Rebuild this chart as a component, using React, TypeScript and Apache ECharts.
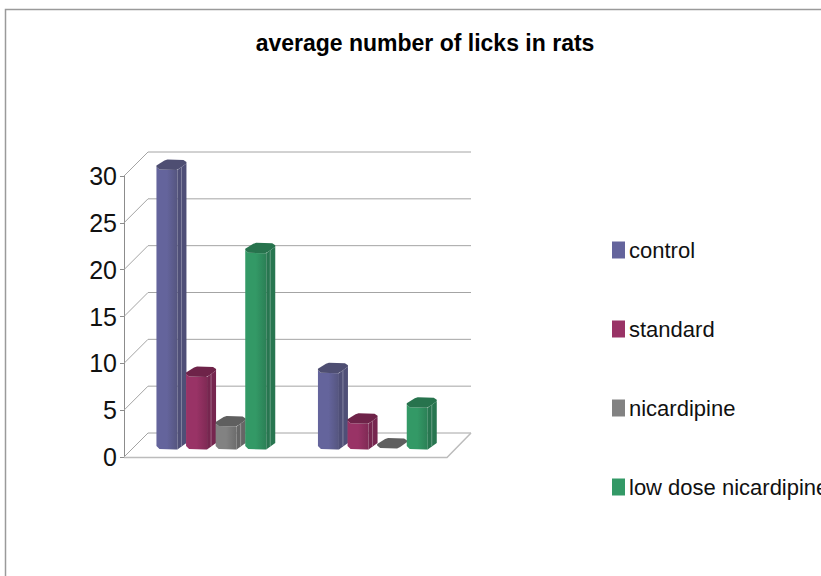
import React, { useEffect, useRef } from "react";
import * as echarts from "echarts";

const groups = ["group A", "group B"];
const controlValues = [29.9, 8.2];
const standardValues = [7.8, 2.8];
const nicardipineValues = [2.5, 0.15];
const lowDoseValues = [21, 4.5];
const yTicks = [0, 5, 10, 15, 20, 25, 30];

const FONT = '"Liberation Sans Narrow", "Liberation Sans", sans-serif';
const WALL_DEPTH = 24;
const BAR_DEPTH = 12;
const BAR_SLOT = 29.6;
const FRONT_W = 21;
const BAR_W = 30;

type Palette = { name: string; values: number[]; base: string; frontEnd: string; side: string; top: string };
const palettes: Palette[] = [
  { name: "control", values: controlValues, base: "#64649c", frontEnd: "#55557f", side: "#4f4f77", top: "#4e4e72" },
  { name: "standard", values: standardValues, base: "#993366", frontEnd: "#802a55", side: "#76264f", top: "#6e2349" },
  { name: "nicardipine", values: nicardipineValues, base: "#828282", frontEnd: "#6c6c6c", side: "#666666", top: "#5f5f5f" },
  { name: "low dose nicardipine", values: lowDoseValues, base: "#339966", frontEnd: "#2b8056", side: "#287650", top: "#27734d" },
];

const poly = (points: number[][], fill: any, z2 = 0) => ({
  type: "polygon",
  z2,
  shape: { points },
  style: { fill, stroke: null },
});

// A faceted cylinder: front facets, side facets, and a darker top cap.
const barRenderer = (slotIndex: number, p: Palette) => (_: any, api: any) => {
  const cat = api.value(0);
  const [cx, yTop] = api.coord([cat, api.value(1)]);
  const [, yZero] = api.coord([cat, 0]);
  const L = cx + BAR_DEPTH - 60 + BAR_SLOT * slotIndex - 0.3;
  const yt = yTop - BAR_DEPTH;
  const yb = yZero - BAR_DEPTH;
  const at = (x: number, y: number, o: number) => [L + x, y + o];
  const front = new echarts.graphic.LinearGradient(0, 0, 1, 0, [
    { offset: 0, color: p.base },
    { offset: 0.5, color: p.base },
    { offset: 1, color: p.frontEnd },
  ]);
  const tall = yb - yt > 6;
  const children: any[] = [];
  if (tall) {
    children.push(
      poly([at(0, yt, 2), at(3, yt, 4.5), at(FRONT_W, yt, 5), at(FRONT_W, yb, 4.5), at(19, yb, 4.5), at(3, yb, 4), at(0, yb, 1)], front, 1),
      poly([at(FRONT_W, yt, 5), at(23, yt, 3.5), at(BAR_W, yt, -1.5), at(BAR_W, yb, -2), at(23, yb, 3), at(FRONT_W, yb, 4.5)], p.side, 1),
      {
        type: "line",
        z2: 2,
        shape: { x1: L + 25, y1: yt + 2, x2: L + 25, y2: yb + 1 },
        style: { stroke: "rgba(255,255,255,0.3)", lineWidth: 1 },
      }
    );
  }
  children.push(
    poly(
      [at(0, yt, 2), at(3, yt, 4.5), at(20, yt, 5), at(23, yt, 3.5), at(BAR_W, yt, -1.5), at(BAR_W, yt, -3), at(27, yt, -5), at(11, yt, -5.5), at(8, yt, -4.5), at(0, yt, 0.5)],
      p.top,
      3
    )
  );
  return { type: "group", children };
};

// Floor, side wall and back wall rules, one entry per axis tick.
const wallRenderer = (_: any, api: any) => {
  const v = api.value(0);
  const [x0, y] = api.coord([0, v]);
  const plotRight = (api.getWidth ? 0 : 0) + x0 + RIGHT_SPAN;
  const stroke = v === 0 ? "#bcbcbc" : "#a4a4a4";
  const lineWidth = v === 30 ? 1 : 1;
  const children: any[] = [
    {
      type: "polyline",
      shape: { points: [[x0, y], [x0 + WALL_DEPTH, y - WALL_DEPTH], [plotRight + WALL_DEPTH, y - WALL_DEPTH]] },
      style: { stroke: "#a4a4a4", lineWidth, fill: null },
    },
  ];
  if (v === 0) {
    children.push({
      type: "polyline",
      shape: { points: [[x0, y + 0.5], [plotRight, y + 0.5], [plotRight + WALL_DEPTH, y - WALL_DEPTH]] },
      style: { stroke, lineWidth: 1.5, fill: null },
    });
  }
  return { type: "group", children };
};
const RIGHT_SPAN = 323;

export default function App() {
  const ref = useRef<HTMLDivElement>(null);
  useEffect(() => {
    document.body.style.margin = "0";
    const chart = echarts.init(ref.current!, undefined, { renderer: "svg" });
    chart.setOption({
      animation: false,
      backgroundColor: "#ffffff",
      title: {
        text: "average number of licks in rats",
        left: 420,
        top: 26,
        textAlign: "center",
        textStyle: { fontFamily: FONT, fontWeight: "bold", fontSize: 23, color: "#000000" },
      },
      legend: {
        orient: "vertical",
        left: 607,
        top: 234,
        itemWidth: 13,
        itemHeight: 17,
        itemGap: 57,
        icon: "rect",
        data: palettes.map((p) => p.name),
        selectedMode: false,
        textStyle: { fontFamily: FONT, fontSize: 22, color: "#111111", padding: [0, 0, 0, -1] },
      },
      grid: { left: 124, top: 176, width: RIGHT_SPAN, height: 281 },
      xAxis: {
        type: "category",
        data: groups,
        axisLine: { show: false },
        axisTick: { show: false },
        axisLabel: { show: false },
      },
      yAxis: {
        type: "value",
        min: 0,
        max: 30,
        interval: 5,
        splitLine: { show: false },
        axisLine: { show: true, lineStyle: { color: "#8c8c8c", width: 1 } },
        axisTick: { show: true, length: 4, lineStyle: { color: "#8c8c8c" } },
        axisLabel: { margin: 7, fontFamily: FONT, fontSize: 25, color: "#111111" },
      },
      graphic: [
        {
          type: "polyline",
          silent: true,
          shape: { points: [[5.5, 576], [5.5, 9.5], [821, 9.5]] },
          style: { stroke: "#9a9a9a", lineWidth: 1.5, fill: null },
        },
      ],
      series: [
        {
          type: "custom",
          name: "walls",
          silent: true,
          clip: false,
          z: 1,
          data: yTicks.map((t) => [t]),
          encode: { y: 0 },
          renderItem: (params: any, api: any) => wallRenderer(params, {
            value: api.value,
            coord: ([, v]: number[]) => api.coord([0, v]).map((c: number, i: number) => (i === 0 ? 124 : c)),
          }),
        },
        ...palettes.map((p, i) => ({
          type: "custom",
          name: p.name,
          clip: false,
          z: 2 + i,
          itemStyle: { color: p.base },
          data: p.values.map((v, c) => [c, v]),
          encode: { x: 0, y: 1 },
          renderItem: barRenderer(i, p),
        })),
      ],
    });
    return () => chart.dispose();
  }, []);
  return <div ref={ref} style={{ width: 821, height: 576 }} />;
}
